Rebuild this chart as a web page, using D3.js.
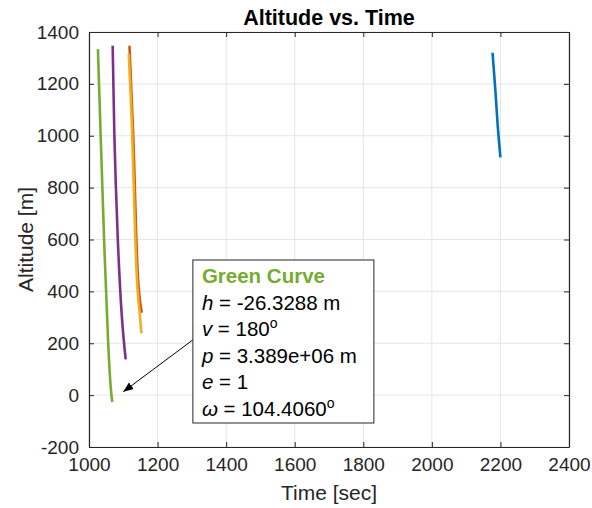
<!DOCTYPE html>
<html lang="en">
<head>
<meta charset="UTF-8">
<title>Altitude vs. Time</title>
<style>
    body { margin: 0; background: #fff; }
    svg { display: block; font-family: 'Liberation Sans', Arial, sans-serif; }
</style>
</head>
<body>
<svg width="592" height="508"></svg>
<script src="https://d3js.org/d3.v7.min.js"></script>
<script>
// series: time [sec] and altitude [m]
const blueTime = [2177, 2185, 2192, 2200];
const blueAlt = [1320, 1180, 1040, 917];
const orangeTime = [1118, 1129, 1137, 1143, 1149, 1154];
const orangeAlt = [1347, 1002, 650, 450, 360, 318];
const yellowTime = [1116, 1126, 1135, 1142, 1148, 1153];
const yellowAlt = [1315, 1002, 601, 400, 310, 238];
const purpleTime = [1069, 1074, 1084, 1096, 1107];
const purpleAlt = [1347, 1002, 601, 300, 138];
const greenTime = [1026, 1034, 1044, 1056, 1064, 1068];
const greenAlt = [1334, 1002, 601, 200, 20, -26.3];

const xTicks = [1000, 1200, 1400, 1600, 1800, 2000, 2200, 2400];
const yTicks = [-200, 0, 200, 400, 600, 800, 1000, 1200, 1400];

// annotation (data units)
const arrowFrom = [1303, 213];
const arrowTo = [1100, 13];
const boxCorner = [1303, 521]; // top-left of the text box
const noteLines = [
    { v: 'h', rest: ' = -26.3288 m' },
    { v: 'v', rest: ' = 180', deg: true },
    { v: 'p', rest: ' = 3.389e+06 m' },
    { v: 'e', rest: ' = 1' },
    { v: 'ω', rest: ' = 104.4060', deg: true }
];

const series = [
    { t: blueTime, a: blueAlt, color: '#0072BD' },
    { t: orangeTime, a: orangeAlt, color: '#D95319' },
    { t: yellowTime, a: yellowAlt, color: '#EDB120' },
    { t: purpleTime, a: purpleAlt, color: '#7E2F8E' },
    { t: greenTime, a: greenAlt, color: '#77AC30' }
];

const margin = { left: 89, right: 23, top: 32, bottom: 61 };
const width = 592, height = 508;
const svg = d3.select('svg');

const x = d3.scaleLinear().domain([1000, 2400]).range([margin.left, width - margin.right]);
const y = d3.scaleLinear().domain([-200, 1400]).range([height - margin.bottom, margin.top]);

const axisCol = '#262626';
const fmt = d => String(d); // plain hyphen, no thousands separator

// grid
svg.append('g').selectAll('line').data(xTicks).join('line')
    .attr('x1', d => x(d)).attr('x2', d => x(d))
    .attr('y1', y(-200)).attr('y2', y(1400))
    .attr('stroke', '#e5e5e5').attr('stroke-width', 1);
svg.append('g').selectAll('line').data(yTicks).join('line')
    .attr('y1', d => y(d)).attr('y2', d => y(d))
    .attr('x1', x(1000)).attr('x2', x(2400))
    .attr('stroke', '#e5e5e5').attr('stroke-width', 1);

// curves
const line = d3.line()
    .x(d => x(d[0]))
    .y(d => y(d[1]))
    .curve(d3.curveNatural);

series.forEach(s => {
    svg.append('path')
        .datum(s.t.map((t, i) => [t, s.a[i]]))
        .attr('d', line)
        .attr('fill', 'none')
        .attr('stroke', s.color)
        .attr('stroke-width', 2.6)
        .attr('stroke-linejoin', 'round');
});

// axes with inward ticks, boxed
const fs = '19px';
const bottomAxis = d3.axisBottom(x).tickValues(xTicks).tickFormat(fmt).tickSizeInner(-5).tickSizeOuter(0).tickPadding(11);
const leftAxis = d3.axisLeft(y).tickValues(yTicks).tickFormat(fmt).tickSizeInner(-5).tickSizeOuter(0).tickPadding(10);

const gx = svg.append('g').attr('transform', `translate(0,${y(-200)})`).call(bottomAxis);
const gy = svg.append('g').attr('transform', `translate(${x(1000)},0)`).call(leftAxis);
const gxt = svg.append('g').attr('transform', `translate(0,${y(1400)})`)
    .call(d3.axisTop(x).tickValues(xTicks).tickSizeInner(-5).tickSizeOuter(0).tickFormat(''));
const gyr = svg.append('g').attr('transform', `translate(${x(2400)},0)`)
    .call(d3.axisRight(y).tickValues(yTicks).tickSizeInner(-5).tickSizeOuter(0).tickFormat(''));

[gx, gy, gxt, gyr].forEach(g => {
    g.select('.domain').attr('stroke', axisCol).attr('stroke-width', 1.2);
    g.selectAll('.tick line').attr('stroke', axisCol);
    g.selectAll('.tick text').attr('fill', axisCol).style('font-size', fs).style('font-family', null);
});

// title and labels
svg.append('text')
    .attr('x', (x(1000) + x(2400)) / 2).attr('y', 25)
    .attr('text-anchor', 'middle')
    .style('font-size', '21.5px').style('font-weight', 'bold')
    .attr('fill', '#000')
    .text('Altitude vs. Time');

svg.append('text')
    .attr('x', (x(1000) + x(2400)) / 2).attr('y', 500)
    .attr('text-anchor', 'middle')
    .style('font-size', '21px')
    .attr('fill', axisCol)
    .text('Time [sec]');

svg.append('text')
    .attr('transform', `translate(33,${(y(-200) + y(1400)) / 2}) rotate(-90)`)
    .attr('text-anchor', 'middle')
    .style('font-size', '21px')
    .attr('fill', axisCol)
    .text('Altitude [m]');

// arrow
svg.append('defs').append('marker')
    .attr('id', 'head')
    .attr('viewBox', '0 0 10 10')
    .attr('refX', 10).attr('refY', 5)
    .attr('markerWidth', 10).attr('markerHeight', 10)
    .attr('markerUnits', 'userSpaceOnUse')
    .attr('orient', 'auto')
    .append('path').attr('d', 'M0,1 L10,5 L0,9 Z').attr('fill', '#000');

svg.append('line')
    .attr('x1', x(arrowFrom[0])).attr('y1', y(arrowFrom[1]))
    .attr('x2', x(arrowTo[0])).attr('y2', y(arrowTo[1]))
    .attr('stroke', '#000').attr('stroke-width', 1)
    .attr('marker-end', 'url(#head)');

// text box
const bx = x(boxCorner[0]), by = y(boxCorner[1]);
const box = svg.append('g').attr('transform', `translate(${bx},${by})`);
box.append('rect')
    .attr('width', 181).attr('height', 163)
    .attr('fill', '#fff').attr('stroke', '#262626').attr('stroke-width', 1);

box.append('text')
    .attr('x', 9).attr('y', 23)
    .style('font-size', '20.5px').style('font-weight', 'bold')
    .attr('fill', '#77AC30')
    .text('Green Curve');

noteLines.forEach((l, i) => {
    const t = box.append('text')
        .attr('x', 9).attr('y', 50 + i * 26.4)
        .style('font-size', '20.5px')
        .attr('fill', '#000');
    t.append('tspan').style('font-style', 'italic').text(l.v);
    t.append('tspan').text(l.rest);
    if (l.deg) {
        t.append('tspan').attr('dy', -8).style('font-size', '14px').text('o');
    }
});
</script>
</body>
</html>
